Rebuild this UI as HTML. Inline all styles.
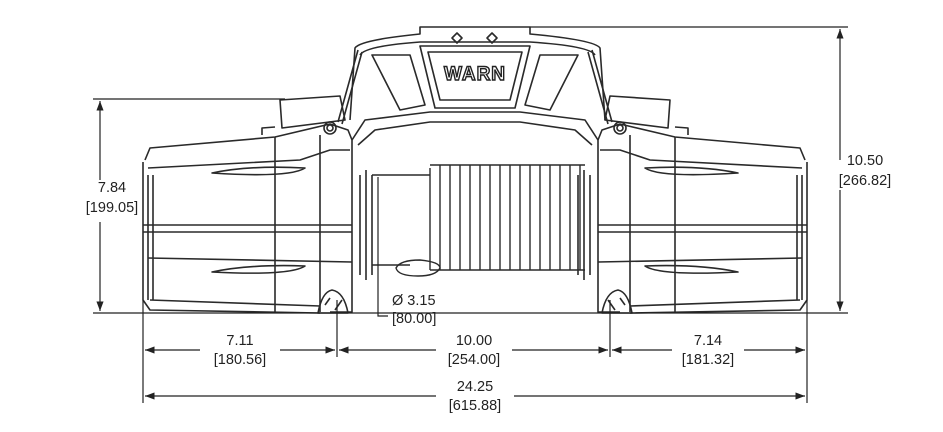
<!DOCTYPE html>
<html><head><style>
html,body{margin:0;padding:0;background:#fff;}
svg{display:block;}
text{font-family:"Liberation Sans",Arial,sans-serif;font-size:14.5px;fill:#222;}
</style></head><body>
<svg width="943" height="432" viewBox="0 0 943 432" xmlns="http://www.w3.org/2000/svg">
<defs>
<marker id="a" markerWidth="8" markerHeight="6" refX="8" refY="3" orient="auto"><path d="M0,0 L8,3 L0,6 z" fill="#222"/></marker>
<g id="half" fill="none" stroke="#2a2a2a" stroke-width="1.6" stroke-linejoin="round">
  <path d="M145,160 L150,148 L275,137 L330,124 L348,130 L352,140 L352,312 L330,312"/>
  <path d="M143,162 L143,300 L150,310 L320,313"/>
  <path d="M148,168 L300,160 L330,150 L350,150"/>
  <path d="M143,225 L352,225 M143,232 L352,232"/>
  <path d="M148,258 L352,262"/>
  <path d="M150,300 L320,306"/>
  <path d="M275,137 L275,312 M320,135 L320,312"/>
  <path d="M212,173 Q250,165 305,168 Q290,178 212,173 z"/>
  <path d="M212,272 Q250,264 305,266 Q290,276 212,272 z"/>
  <path d="M148,175 L148,300 M153,175 L153,300"/>
  <path d="M280,100 L340,96 L345,120 L282,128 z"/>
  <path d="M262,135 L262,128 L275,127"/>
  <circle cx="330" cy="128" r="6"/><circle cx="330" cy="128" r="3"/>
  <path d="M318,313 Q322,292 332,290 Q344,292 348,313 z"/>
  <path d="M325,305 L330,298 M335,310 L342,300"/>
  <path d="M338,122 L358,50 M342,124 L362,52"/>
  <path d="M352,140 L365,120 L430,112 L475,112"/>
  <path d="M358,145 L375,130 L430,122 L475,122"/>
  <path d="M360,175 L360,275 M366,170 L366,280 M372,175 L372,275"/>
</g>
</defs>

<use href="#half"/>
<use href="#half" transform="translate(950,0) scale(-1,1)"/>

<g fill="none" stroke="#2a2a2a" stroke-width="1.6" stroke-linejoin="round">
  <path d="M372,175 L430,175 M372,265 L410,265"/>
  <path d="M350,120 L355,48 Q360,40 420,34 L420,27 L530,27 L530,34 Q595,40 600,48 L605,120"/>
  <path d="M360,55 Q365,46 420,42 L530,42 Q590,46 595,55"/>
  <path d="M420,46 L530,46 L515,108 L435,108 z"/>
  <path d="M428,52 L522,52 L510,100 L440,100 z"/>
  <path d="M372,55 L410,55 L425,105 L400,110 z"/>
  <path d="M578,55 L540,55 L525,105 L550,110 z"/>
  <path d="M452,38 L457,33 L462,38 L457,43 z M487,38 L492,33 L497,38 L492,43 z"/>
  <path d="M430,165 L585,165 M430,270 L585,270"/>
</g>
<g fill="none" stroke="#2a2a2a" stroke-width="1.4">
  <path d="M430,168 L430,270 M440,165 L440,270 M450,165 L450,270 M460,165 L460,270 M470,165 L470,270 M480,165 L480,270 M490,165 L490,270 M500,165 L500,270 M510,165 L510,270 M520,165 L520,270 M530,165 L530,270 M540,165 L540,270 M550,165 L550,270 M560,165 L560,270 M570,165 L570,270 M580,165 L580,270"/>
  <path d="M396,268 Q400,260 420,260 Q440,262 440,268 Q436,276 418,276 Q398,276 396,268 z"/>
</g>
<text x="475" y="80" text-anchor="middle" style="font-size:19px;font-weight:bold;fill:#fff;stroke:#222;stroke-width:1.4;letter-spacing:1px">WARN</text>

<g stroke="#222" stroke-width="1.2" fill="none">
  <path d="M530,27 L848,27 M93,99 L285,99 M93,313 L848,313"/>
  <path d="M840,160 L840,29" marker-end="url(#a)"/><path d="M840,190 L840,311" marker-end="url(#a)"/>
  <path d="M100,180 L100,101" marker-end="url(#a)"/><path d="M100,222 L100,311" marker-end="url(#a)"/>
  <path d="M143,300 L143,403 M337,300 L337,357 M610,300 L610,357 M807,300 L807,403"/>
  <path d="M200,350 L145,350" marker-end="url(#a)"/><path d="M280,350 L335,350" marker-end="url(#a)"/>
  <path d="M436,350 L339,350" marker-end="url(#a)"/><path d="M512,350 L608,350" marker-end="url(#a)"/>
  <path d="M672,350 L612,350" marker-end="url(#a)"/><path d="M744,350 L805,350" marker-end="url(#a)"/>
  <path d="M436,396 L145,396" marker-end="url(#a)"/><path d="M514,396 L805,396" marker-end="url(#a)"/>
  <path d="M378,177 L378,316 L388,316"/>
</g>
<g text-anchor="middle">
  <text x="865" y="165">10.50</text><text x="865" y="185">[266.82]</text>
  <text x="112" y="192">7.84</text><text x="112" y="212">[199.05]</text>
  <text x="240" y="345">7.11</text><text x="240" y="364">[180.56]</text>
  <text x="474" y="345">10.00</text><text x="474" y="364">[254.00]</text>
  <text x="708" y="345">7.14</text><text x="708" y="364">[181.32]</text>
  <text x="475" y="391">24.25</text><text x="475" y="410">[615.88]</text>
</g>
<text x="392" y="305">Ø 3.15</text><text x="392" y="323">[80.00]</text>
</svg>
</body></html>
